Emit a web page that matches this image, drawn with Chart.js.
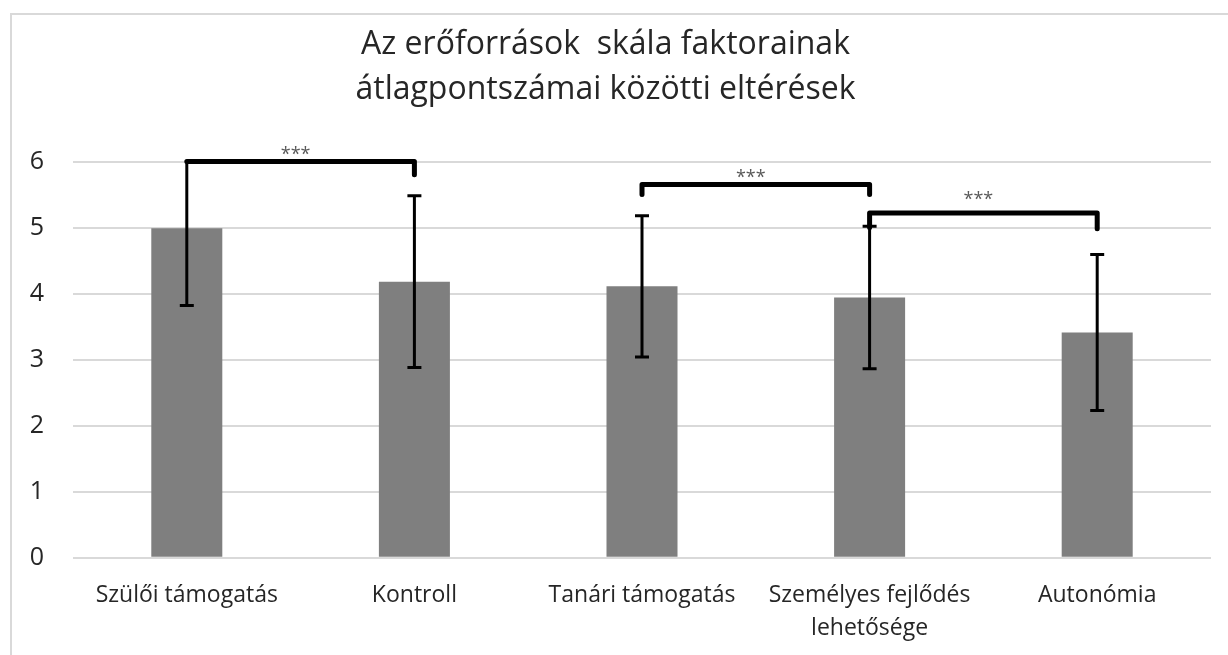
<!DOCTYPE html>
<html>
<head>
<meta charset="utf-8">
<script src="https://cdn.jsdelivr.net/npm/chart.js@4"></script>
<style>
  body { margin: 0; background: #fff; }
  #wrap { width: 1228px; height: 655px; position: relative; }
</style>
</head>
<body>
<div id="wrap"><canvas id="factorChart"></canvas></div>
<script>
const categories = [
  "Szülői támogatás",
  "Kontroll",
  "Tanári támogatás",
  ["Személyes fejlődés", "lehetősége"],
  "Autonómia",
];
const means = [4.99, 4.18, 4.11, 3.94, 3.41];
const errors = [1.17, 1.3, 1.07, 1.08, 1.18];

// significance brackets (category index, y values on the axis)
const bracketFrom = [0, 2, 3];
const bracketTo = [1, 3, 4];
const bracketLevel = [6.0, 5.65, 5.22];
const bracketLeftDrop = [6.0, 5.5, 5.0];
const bracketRightDrop = [5.8, 5.5, 4.98];
const bracketText = ["***", "***", "***"];
const bracketTextLevel = [6.14, 5.8, 5.47];

const yTicks = [0, 1, 2, 3, 4, 5, 6];

const extras = {
  id: "extras",
  beforeDraw(chart) {
    const ctx = chart.ctx;
    ctx.save();
    ctx.strokeStyle = "#d9d9d9";
    ctx.lineWidth = 2;
    ctx.beginPath();
    ctx.moveTo(11, 655);
    ctx.lineTo(11, 14);
    ctx.lineTo(1228, 14);
    ctx.stroke();
    ctx.restore();
  },
  afterDatasetsDraw(chart) {
    const ctx = chart.ctx;
    const x = chart.scales.x;
    const y = chart.scales.y;
    const area = chart.chartArea;

    // error bars
    ctx.save();
    ctx.beginPath();
    ctx.rect(area.left, area.top, area.right - area.left, area.bottom - area.top + 2);
    ctx.clip();
    ctx.strokeStyle = "#000";
    ctx.lineWidth = 3;
    means.forEach((m, i) => {
      const cx = x.getPixelForValue(i);
      const top = y.getPixelForValue(m + errors[i]);
      const bot = y.getPixelForValue(m - errors[i]);
      ctx.beginPath();
      ctx.moveTo(cx, top);
      ctx.lineTo(cx, bot);
      ctx.moveTo(cx - 7, top);
      ctx.lineTo(cx + 7, top);
      ctx.moveTo(cx - 7, bot);
      ctx.lineTo(cx + 7, bot);
      ctx.stroke();
    });
    ctx.restore();

    // brackets
    ctx.save();
    ctx.strokeStyle = "#000";
    ctx.lineWidth = 5;
    ctx.lineJoin = "round";
    ctx.lineCap = "round";
    ctx.fillStyle = "#595959";
    ctx.font = "18px 'Open Sans'";
    ctx.textAlign = "center";
    ctx.textBaseline = "middle";
    bracketFrom.forEach((from, i) => {
      const x1 = x.getPixelForValue(from);
      const x2 = x.getPixelForValue(bracketTo[i]);
      const yl = y.getPixelForValue(bracketLevel[i]);
      ctx.beginPath();
      ctx.moveTo(x1, y.getPixelForValue(bracketLeftDrop[i]));
      ctx.lineTo(x1, yl);
      ctx.lineTo(x2, yl);
      ctx.lineTo(x2, y.getPixelForValue(bracketRightDrop[i]));
      ctx.stroke();
      ctx.fillText(bracketText[i], (x1 + x2) / 2 - 5, y.getPixelForValue(bracketTextLevel[i]) + 3);
    });
    ctx.restore();
  },
};

new Chart(document.getElementById("factorChart"), {
  type: "bar",
  data: {
    labels: categories,
    datasets: [
      {
        data: means,
        backgroundColor: "#7f7f7f",
        borderWidth: 0,
        categoryPercentage: 1,
        barPercentage: 0.312,
      },
    ],
  },
  options: {
    responsive: true,
    maintainAspectRatio: false,
    animation: false,
    layout: { padding: { left: 0, right: 17, top: 0, bottom: 0 } },
    plugins: {
      legend: { display: false },
      tooltip: { enabled: false },
      title: {
        display: true,
        text: ["Az erőforrások  skála faktorainak", "átlagpontszámai közötti eltérések"],
        color: "#262626",
        font: { family: "'Open Sans'", size: 32, weight: "normal", lineHeight: 1.4 },
        padding: { top: 22.6, bottom: 49.3 },
      },
    },
    scales: {
      x: {
        grid: { display: false },
        border: { display: false },
        ticks: {
          color: "#262626",
          font: { family: "'Open Sans'", size: 23, lineHeight: 1.4 },
          padding: 14,
          maxRotation: 0,
          autoSkip: false,
        },
        afterFit(scale) {
          scale.height = 97.3;
        },
      },
      y: {
        min: 0,
        max: 6,
        afterBuildTicks(scale) {
          scale.ticks = yTicks.map((v) => ({ value: v }));
        },
        grid: { color: "#d9d9d9", lineWidth: 2, drawTicks: false },
        border: { display: false },
        ticks: {
          color: "#262626",
          font: { family: "'Open Sans'", size: 25 },
          padding: 29,
        },
        afterFit(scale) {
          scale.width = 73;
        },
      },
    },
  },
  plugins: [extras],
});
</script>
</body>
</html>
